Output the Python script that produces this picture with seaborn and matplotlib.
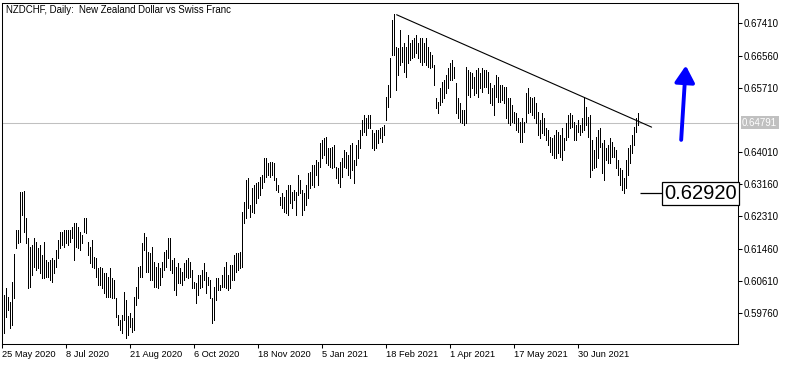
#!/usr/bin/env python
# coding: utf-8

import numpy as np
import pandas as pd
import matplotlib
matplotlib.use("Agg")
import matplotlib.pyplot as plt
import matplotlib.transforms as mtransforms
from matplotlib.patches import FancyArrowPatch
import seaborn as sns

# NZDCHF daily bars from 25 May 2020
highs = [
    0.6023, 0.6042, 0.6018, 0.6005, 0.6058, 0.6132, 0.6195, 0.6195, 0.6296, 0.6296,
    0.6298, 0.6227, 0.6174, 0.6150, 0.6156, 0.6174, 0.6163, 0.6148, 0.6156, 0.6129,
    0.6163, 0.6116, 0.6111, 0.6116, 0.6121, 0.6116, 0.6142, 0.6169, 0.6190, 0.6190,
    0.6195, 0.6195, 0.6195, 0.6195, 0.6203, 0.6214, 0.6214, 0.6203, 0.6190, 0.6182,
    0.6227, 0.6227, 0.6163, 0.6150, 0.6169, 0.6124, 0.6121, 0.6095, 0.6097, 0.6095,
    0.6082, 0.6082, 0.6071, 0.6095, 0.6068, 0.6063, 0.6015, 0.5971, 0.5957, 0.5971,
    0.6031, 0.6010, 0.5968, 0.5976, 0.5963, 0.6018, 0.6045, 0.6097, 0.6100, 0.6161,
    0.6187, 0.6177, 0.6137, 0.6134, 0.6150, 0.6111, 0.6097, 0.6108, 0.6095, 0.6111,
    0.6137, 0.6142, 0.6174, 0.6174, 0.6116, 0.6121, 0.6097, 0.6108, 0.6095, 0.6084,
    0.6108, 0.6116, 0.6121, 0.6111, 0.6089, 0.6058, 0.6055, 0.6076, 0.6076, 0.6089,
    0.6108, 0.6084, 0.6071, 0.6063, 0.6015, 0.6045, 0.6068, 0.6068, 0.6050, 0.6076,
    0.6097, 0.6111, 0.6076, 0.6103, 0.6103, 0.6129, 0.6134, 0.6134, 0.6137, 0.6243,
    0.6269, 0.6327, 0.6333, 0.6261, 0.6306, 0.6314, 0.6319, 0.6322, 0.6335, 0.6341,
    0.6385, 0.6385, 0.6372, 0.6375, 0.6375, 0.6372, 0.6333, 0.6314, 0.6282, 0.6293,
    0.6282, 0.6301, 0.6314, 0.6314, 0.6296, 0.6301, 0.6296, 0.6341, 0.6327, 0.6301,
    0.6293, 0.6314, 0.6346, 0.6348, 0.6367, 0.6367, 0.6380, 0.6375, 0.6425, 0.6433,
    0.6438, 0.6441, 0.6412, 0.6412, 0.6415, 0.6420, 0.6362, 0.6359, 0.6375, 0.6385,
    0.6407, 0.6401, 0.6393, 0.6420, 0.6425, 0.6380, 0.6420, 0.6433, 0.6459, 0.6486,
    0.6499, 0.6491, 0.6499, 0.6499, 0.6459, 0.6452, 0.6459, 0.6459, 0.6465, 0.6467,
    0.6473, 0.6547, 0.6578, 0.6650, 0.6750, 0.6766, 0.6679, 0.6676, 0.6724, 0.6679,
    0.6689, 0.6679, 0.6711, 0.6689, 0.6697, 0.6703, 0.6711, 0.6689, 0.6703, 0.6703,
    0.6689, 0.6703, 0.6679, 0.6666, 0.6658, 0.6631, 0.6544, 0.6533, 0.6571, 0.6586,
    0.6592, 0.6605, 0.6623, 0.6637, 0.6644, 0.6626, 0.6584, 0.6544, 0.6531, 0.6512,
    0.6512, 0.6626, 0.6618, 0.6613, 0.6610, 0.6600, 0.6618, 0.6623, 0.6610, 0.6623,
    0.6618, 0.6618, 0.6613, 0.6584, 0.6571, 0.6578, 0.6605, 0.6600, 0.6578, 0.6578,
    0.6573, 0.6573, 0.6544, 0.6544, 0.6526, 0.6507, 0.6504, 0.6491, 0.6481, 0.6491,
    0.6481, 0.6557, 0.6571, 0.6547, 0.6544, 0.6547, 0.6531, 0.6507, 0.6486, 0.6504,
    0.6491, 0.6465, 0.6459, 0.6441, 0.6438, 0.6446, 0.6459, 0.6454, 0.6446, 0.6465,
    0.6438, 0.6478, 0.6499, 0.6504, 0.6499, 0.6481, 0.6473, 0.6486, 0.6473, 0.6491,
    0.6547, 0.6520, 0.6494, 0.6499, 0.6433, 0.6407, 0.6441, 0.6459, 0.6465, 0.6425,
    0.6433, 0.6412, 0.6420, 0.6438, 0.6428, 0.6415, 0.6407, 0.6380, 0.6359, 0.6354,
    0.6333, 0.6380, 0.6412, 0.6420, 0.6446, 0.6467, 0.6491, 0.6504,
]
lows = [
    0.5923, 0.5965, 0.5984, 0.5936, 0.5944, 0.6015, 0.6148, 0.6161, 0.6163, 0.6235,
    0.6190, 0.6161, 0.6042, 0.6045, 0.6076, 0.6097, 0.6089, 0.6095, 0.6082, 0.6068,
    0.6068, 0.6071, 0.6071, 0.6063, 0.6058, 0.6082, 0.6097, 0.6121, 0.6148, 0.6156,
    0.6150, 0.6161, 0.6156, 0.6163, 0.6174, 0.6116, 0.6150, 0.6148, 0.6142, 0.6161,
    0.6190, 0.6187, 0.6129, 0.6108, 0.6097, 0.6095, 0.6071, 0.6050, 0.6050, 0.6042,
    0.6029, 0.6018, 0.6018, 0.6018, 0.6015, 0.6015, 0.5965, 0.5944, 0.5931, 0.5923,
    0.5957, 0.5910, 0.5918, 0.5939, 0.5926, 0.5931, 0.5997, 0.6015, 0.6071, 0.6071,
    0.6142, 0.6084, 0.6084, 0.6063, 0.6063, 0.6045, 0.6045, 0.6042, 0.6050, 0.6071,
    0.6089, 0.6097, 0.6121, 0.6089, 0.6082, 0.6037, 0.6023, 0.6055, 0.6055, 0.6050,
    0.6063, 0.6071, 0.6068, 0.6071, 0.6042, 0.6042, 0.6002, 0.6023, 0.6042, 0.6045,
    0.6063, 0.6029, 0.6050, 0.6015, 0.5949, 0.5957, 0.6010, 0.6037, 0.6037, 0.6045,
    0.6045, 0.6042, 0.6037, 0.6042, 0.6063, 0.6063, 0.6084, 0.6089, 0.6095, 0.6097,
    0.6214, 0.6227, 0.6253, 0.6230, 0.6243, 0.6240, 0.6267, 0.6280, 0.6288, 0.6306,
    0.6322, 0.6335, 0.6341, 0.6335, 0.6341, 0.6327, 0.6301, 0.6296, 0.6261, 0.6253,
    0.6243, 0.6240, 0.6235, 0.6267, 0.6253, 0.6274, 0.6235, 0.6288, 0.6293, 0.6235,
    0.6248, 0.6261, 0.6280, 0.6306, 0.6314, 0.6309, 0.6341, 0.6314, 0.6362, 0.6385,
    0.6393, 0.6372, 0.6367, 0.6362, 0.6359, 0.6362, 0.6333, 0.6319, 0.6309, 0.6335,
    0.6362, 0.6359, 0.6341, 0.6333, 0.6354, 0.6319, 0.6367, 0.6385, 0.6412, 0.6446,
    0.6454, 0.6446, 0.6465, 0.6465, 0.6412, 0.6407, 0.6412, 0.6425, 0.6438, 0.6428,
    0.6446, 0.6486, 0.6520, 0.6547, 0.6658, 0.6658, 0.6565, 0.6605, 0.6631, 0.6639,
    0.6613, 0.6600, 0.6637, 0.6644, 0.6650, 0.6652, 0.6663, 0.6650, 0.6639, 0.6631,
    0.6639, 0.6631, 0.6626, 0.6623, 0.6626, 0.6578, 0.6518, 0.6504, 0.6526, 0.6533,
    0.6544, 0.6557, 0.6571, 0.6592, 0.6592, 0.6597, 0.6504, 0.6491, 0.6481, 0.6478,
    0.6473, 0.6478, 0.6552, 0.6547, 0.6571, 0.6552, 0.6557, 0.6547, 0.6571, 0.6560,
    0.6573, 0.6573, 0.6557, 0.6531, 0.6526, 0.6499, 0.6547, 0.6533, 0.6533, 0.6539,
    0.6531, 0.6491, 0.6478, 0.6473, 0.6481, 0.6478, 0.6459, 0.6454, 0.6428, 0.6428,
    0.6454, 0.6481, 0.6504, 0.6507, 0.6499, 0.6491, 0.6478, 0.6446, 0.6438, 0.6452,
    0.6446, 0.6433, 0.6420, 0.6401, 0.6393, 0.6385, 0.6385, 0.6399, 0.6388, 0.6380,
    0.6407, 0.6433, 0.6441, 0.6465, 0.6467, 0.6433, 0.6433, 0.6454, 0.6446, 0.6454,
    0.6459, 0.6473, 0.6441, 0.6335, 0.6354, 0.6359, 0.6362, 0.6385, 0.6415, 0.6346,
    0.6327, 0.6380, 0.6372, 0.6372, 0.6388, 0.6388, 0.6359, 0.6341, 0.6314, 0.6301,
    0.6292, 0.6306, 0.6341, 0.6372, 0.6399, 0.6420, 0.6454, 0.6473,
]

# x axis labels, one every 32 bars (first one sits on the bar before 25 May)
date_labels = ["25 May 2020", "8 Jul 2020", "21 Aug 2020", "6 Oct 2020", "18 Nov 2020",
               "5 Jan 2021", "18 Feb 2021", "1 Apr 2021", "17 May 2021", "30 Jun 2021"]
price_ticks = [0.67410, 0.66560, 0.65710, 0.64010, 0.63160, 0.62310, 0.61460, 0.60610, 0.59760]

last_price = 0.64791
marked_low = 0.62920

# resistance line drawn through the Feb high and the May high
trend_bars = [196.3, 323.8]
trend_prices = [0.6764, 0.6467]

title = "NZDCHF, Daily:  New Zealand Dollar vs Swiss Franc"


def draw_bars(ax, df):
    # thin high-low bars, one pixel wide
    ax.vlines(df["bar"], df["low"], df["high"], color="black", lw=0.5,
              antialiased=False, zorder=3)


def style_axes(ax):
    ax.set_xlim(-1, 367)
    ax.set_ylim(0.5894, 0.6795)
    for side in ["left", "right", "top", "bottom"]:
        ax.spines[side].set_visible(True)
        ax.spines[side].set_color("black")
        ax.spines[side].set_linewidth(0.75)

    ax.yaxis.tick_right()
    ax.set_yticks(price_ticks)
    ax.set_yticklabels([f"{v:.5f}" for v in price_ticks])
    ax.tick_params(axis="y", direction="out", length=3, width=0.75, colors="black",
                   labelsize=7, pad=1, right=True, left=False)

    tick_bars = np.arange(len(date_labels)) * 32 - 1
    ax.set_xticks(tick_bars)
    ax.set_xticklabels(date_labels)
    ax.tick_params(axis="x", direction="out", length=3, width=0.75, colors="black",
                   labelsize=6.7, pad=1.5, bottom=True)
    for lbl in ax.get_xticklabels():
        lbl.set_horizontalalignment("left")
    ax.set_xlabel("")
    ax.set_ylabel("")
    ax.grid(False)


def main():
    sns.set_theme(style="white")
    plt.rcParams["font.family"] = ["Liberation Sans", "DejaVu Sans"]

    df = pd.DataFrame({"bar": np.arange(len(highs)), "high": highs, "low": lows})

    fig = plt.figure(figsize=(7.91, 3.65), dpi=100)
    ax = fig.add_axes([2 / 791, 21 / 365, 736 / 791, 341 / 365])

    # current price line
    ax.axhline(last_price, color="#c0c0c0", lw=0.75, zorder=1)

    draw_bars(ax, df)

    # trend line
    sns.lineplot(x=trend_bars, y=trend_prices, ax=ax, color="black", lw=0.8, zorder=4)

    style_axes(ax)

    # title in the top-left corner
    ax.annotate(title, xy=(0, 1), xycoords="axes fraction", xytext=(4, -2),
                textcoords="offset pixels", ha="left", va="top", fontsize=6.9, color="black")

    # blue arrow pointing up
    arrow = FancyArrowPatch((338.5, 0.6426), (341, 0.6637),
                            arrowstyle="-|>,head_width=0.6,head_length=1.0",
                            mutation_scale=10, color="#0000ff", lw=2.8, zorder=5)
    ax.add_patch(arrow)

    # marked low with a boxed label
    ax.hlines(marked_low, len(df), 329.5, color="black", lw=0.9)
    trans = mtransforms.blended_transform_factory(ax.transAxes, ax.transData)
    ax.text(0.998, marked_low, f"{marked_low:.5f}", transform=trans, ha="right", va="center",
            fontsize=14.5, color="black", zorder=6,
            bbox=dict(boxstyle="square,pad=0.1", fc="white", ec="black", lw=0.9))

    # current price tag on the price scale
    ax.annotate(f"{last_price:.5f}", xy=(1, last_price), xycoords=("axes fraction", "data"),
                xytext=(4, 0), textcoords="offset pixels", ha="left", va="center",
                fontsize=7, color="white", annotation_clip=False,
                bbox=dict(boxstyle="square,pad=0.15", fc="#c0c0c0", ec="none"))

    fig.savefig("out.png", dpi=100)


if __name__ == "__main__":
    main()
